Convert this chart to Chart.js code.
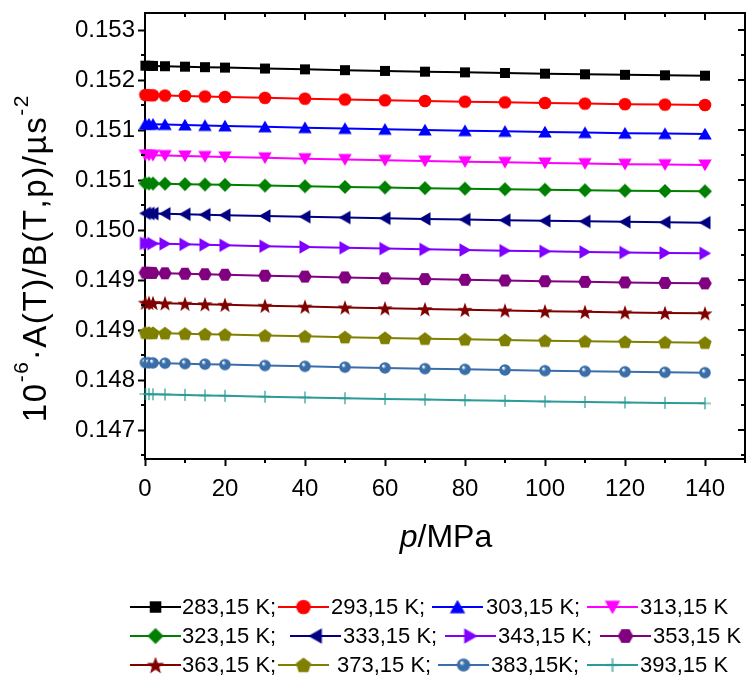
<!DOCTYPE html>
<html>
<head>
<meta charset="utf-8">
<script src="https://cdn.jsdelivr.net/npm/chart.js@4.4.1/dist/chart.umd.min.js"></script>
<style>
    html, body { margin: 0; padding: 0; background: #fff; }
    canvas { display: block; }
</style>
</head>
<body>
<canvas id="speedChart" width="746" height="678"></canvas>
<script>
// Pressure points (MPa)
const pressures = [0.1, 1, 2, 5, 10, 15, 20, 30, 40, 50, 60, 70, 80, 90, 100, 110, 120, 130, 140];

const temperatures = ['283,15 K;', '293,15 K;', '303,15 K;', '313,15 K',
                      '323,15 K;', '333,15 K;', '343,15 K;', '353,15 K',
                      '363,15 K;', '373,15 K;', '383,15K;', '393,15 K'];

// 10^-6 * A(T)/B(T,p) values, one list per isotherm
const t283 = [0.152465, 0.152463, 0.152461, 0.152457, 0.152450, 0.152443, 0.152436, 0.152422, 0.152410, 0.152398, 0.152386, 0.152375, 0.152365, 0.152355, 0.152345, 0.152336, 0.152328, 0.152321, 0.152315];
const t293 = [0.152025, 0.152023, 0.152021, 0.152017, 0.152010, 0.152003, 0.151996, 0.151982, 0.151970, 0.151958, 0.151946, 0.151935, 0.151925, 0.151915, 0.151905, 0.151896, 0.151888, 0.151881, 0.151875];
const t303 = [0.151590, 0.151588, 0.151586, 0.151582, 0.151575, 0.151568, 0.151561, 0.151547, 0.151535, 0.151523, 0.151511, 0.151500, 0.151490, 0.151480, 0.151470, 0.151461, 0.151453, 0.151446, 0.151440];
const t313 = [0.151125, 0.151123, 0.151121, 0.151117, 0.151110, 0.151103, 0.151096, 0.151082, 0.151070, 0.151058, 0.151046, 0.151035, 0.151025, 0.151015, 0.151005, 0.150996, 0.150988, 0.150981, 0.150975];
const t323 = [0.150700, 0.150698, 0.150697, 0.150694, 0.150688, 0.150682, 0.150677, 0.150666, 0.150656, 0.150646, 0.150637, 0.150628, 0.150620, 0.150612, 0.150604, 0.150597, 0.150590, 0.150585, 0.150580];
const t333 = [0.150250, 0.150248, 0.150246, 0.150243, 0.150236, 0.150229, 0.150223, 0.150210, 0.150199, 0.150187, 0.150176, 0.150166, 0.150157, 0.150147, 0.150138, 0.150130, 0.150122, 0.150116, 0.150110];
const t343 = [0.149800, 0.149798, 0.149796, 0.149792, 0.149785, 0.149778, 0.149771, 0.149757, 0.149745, 0.149733, 0.149721, 0.149710, 0.149700, 0.149690, 0.149680, 0.149671, 0.149663, 0.149656, 0.149650];
const t353 = [0.149360, 0.149358, 0.149356, 0.149351, 0.149344, 0.149337, 0.149329, 0.149314, 0.149301, 0.149289, 0.149276, 0.149264, 0.149253, 0.149243, 0.149232, 0.149222, 0.149214, 0.149206, 0.149200];
const t363 = [0.148910, 0.148908, 0.148906, 0.148901, 0.148894, 0.148887, 0.148879, 0.148864, 0.148851, 0.148839, 0.148826, 0.148814, 0.148803, 0.148793, 0.148782, 0.148772, 0.148764, 0.148756, 0.148750];
const t373 = [0.148460, 0.148458, 0.148456, 0.148452, 0.148445, 0.148438, 0.148431, 0.148417, 0.148405, 0.148393, 0.148381, 0.148370, 0.148360, 0.148350, 0.148340, 0.148331, 0.148323, 0.148316, 0.148310];
const t383 = [0.148010, 0.148008, 0.148006, 0.148002, 0.147995, 0.147988, 0.147981, 0.147967, 0.147955, 0.147943, 0.147931, 0.147920, 0.147910, 0.147900, 0.147890, 0.147881, 0.147873, 0.147866, 0.147860];
const t393 = [0.147540, 0.147538, 0.147536, 0.147533, 0.147526, 0.147519, 0.147513, 0.147500, 0.147489, 0.147477, 0.147466, 0.147456, 0.147447, 0.147437, 0.147428, 0.147420, 0.147412, 0.147406, 0.147400];

const allSeries = [t283, t293, t303, t313, t323, t333, t343, t353, t363, t373, t383, t393];

// Axis ticks
const xTickValues = [0, 20, 40, 60, 80, 100, 120, 140];
const yTickValues = [0.147, 0.14775, 0.1485, 0.14925, 0.150, 0.15075, 0.1515, 0.15225, 0.153];
const yTickLabels = ['0.147', '0.148', '0.149', '0.149', '0.150', '0.151', '0.151', '0.152', '0.153'];

// Styles
const colors = ['#000000', '#ff0000', '#0000ff', '#ff00ff', '#008000', '#000080',
                '#8000ff', '#800080', '#800000', '#808000', '#3a6ea8', '#2b9c98'];
const markers = ['square', 'circle', 'triUp', 'triDown', 'diamond', 'triLeft',
                 'triRight', 'hexagon', 'star', 'pentagon', 'sphere', 'cross'];

const FONT = "'Liberation Sans', Arial, sans-serif";

function polygon(g, cx, cy, r, n, startDeg) {
    for (let i = 0; i < n; i++) {
        const a = (startDeg + i * 360 / n) * Math.PI / 180;
        const px = cx + r * Math.cos(a);
        const py = cy + r * Math.sin(a);
        if (i === 0) g.moveTo(px, py); else g.lineTo(px, py);
    }
    g.closePath();
}

// Build a small canvas with the marker, used as pointStyle
function makeMarker(kind, color) {
    const c = document.createElement('canvas');
    c.width = 18;
    c.height = 18;
    const g = c.getContext('2d');
    const cx = 9, cy = 9;
    g.fillStyle = color;
    g.strokeStyle = color;
    g.beginPath();
    switch (kind) {
        case 'square': g.rect(cx - 5, cy - 5, 10, 10); break;
        case 'circle': g.arc(cx, cy, 6.3, 0, Math.PI * 2); break;
        case 'triUp': polygon(g, cx, cy + 1.6, 7.8, 3, -90); break;
        case 'triDown': polygon(g, cx, cy - 1.6, 7.8, 3, 90); break;
        case 'triLeft': polygon(g, cx + 1.6, cy, 7.8, 3, 180); break;
        case 'triRight': polygon(g, cx - 1.6, cy, 7.8, 3, 0); break;
        case 'diamond': polygon(g, cx, cy, 7, 4, -90); break;
        case 'hexagon': polygon(g, cx, cy, 6.8, 6, 0); break;
        case 'pentagon': polygon(g, cx, cy + 0.6, 7, 5, -90); break;
        case 'star':
            for (let i = 0; i < 10; i++) {
                const r = i % 2 === 0 ? 8 : 3.3;
                const a = (-90 + i * 36) * Math.PI / 180;
                const px = cx + r * Math.cos(a), py = cy + 0.8 + r * Math.sin(a);
                if (i === 0) g.moveTo(px, py); else g.lineTo(px, py);
            }
            g.closePath();
            break;
        case 'sphere': {
            const grad = g.createRadialGradient(cx - 1.8, cy - 2.2, 0.4, cx, cy, 6);
            grad.addColorStop(0, '#ffffff');
            grad.addColorStop(0.35, color);
            grad.addColorStop(1, color);
            g.fillStyle = grad;
            g.arc(cx, cy, 5.8, 0, Math.PI * 2);
            break;
        }
        case 'cross':
            g.lineWidth = 1.2;
            g.moveTo(cx - 6, cy); g.lineTo(cx + 6, cy);
            g.moveTo(cx, cy - 6); g.lineTo(cx, cy + 6);
            g.stroke();
            return c;
    }
    g.fill();
    return c;
}

const markerImages = markers.map((m, i) => makeMarker(m, colors[i]));

const datasets = allSeries.map((series, i) => ({
    label: temperatures[i],
    data: pressures.map((p, j) => ({ x: p, y: series[j] })),
    borderColor: colors[i],
    backgroundColor: colors[i],
    borderWidth: 2,
    pointStyle: markerImages[i],
    pointRadius: 6,
    pointHoverRadius: 6,
    tension: 0,
    fill: false,
    clip: false
}));

// Frame, inner ticks, minor ticks
const framePlugin = {
    id: 'frame',
    afterDraw(chart) {
        const { ctx, chartArea: a, scales } = chart;
        const xs = scales.x, ys = scales.y;
        ctx.save();
        ctx.strokeStyle = '#000';
        ctx.lineWidth = 2;
        ctx.beginPath();
        ctx.moveTo(a.left - 1, a.top);
        ctx.lineTo(a.right, a.top);
        ctx.lineTo(a.right, a.bottom + 1);
        ctx.stroke();

        ctx.beginPath();
        // y major on right (inward)
        yTickValues.forEach(v => {
            const y = ys.getPixelForValue(v);
            ctx.moveTo(a.right, y); ctx.lineTo(a.right - 7, y);
        });
        // y minor ticks
        const yMinor = [yTickValues[0] - 0.000375].concat(yTickValues.map(v => v + 0.000375));
        yMinor.forEach(v => {
            if (v < ys.min || v > ys.max) return;
            const y = ys.getPixelForValue(v);
            ctx.moveTo(a.left, y); ctx.lineTo(a.left - 4, y);
            ctx.moveTo(a.right, y); ctx.lineTo(a.right - 4, y);
        });
        // x major on top (inward)
        xTickValues.forEach(v => {
            const x = xs.getPixelForValue(v);
            ctx.moveTo(x, a.top); ctx.lineTo(x, a.top + 7);
        });
        // x minor ticks
        xTickValues.forEach(v => {
            const m = v + 10;
            if (m > xs.max) return;
            const x = xs.getPixelForValue(m);
            ctx.moveTo(x, a.bottom); ctx.lineTo(x, a.bottom + 4);
            ctx.moveTo(x, a.top); ctx.lineTo(x, a.top + 4);
        });
        ctx.stroke();
        ctx.restore();
    }
};

// Axis titles with superscripts / italics
const titlePlugin = {
    id: 'titles',
    afterDraw(chart) {
        const ctx = chart.ctx;
        const a = chart.chartArea;
        ctx.save();
        ctx.fillStyle = '#000';
        ctx.textBaseline = 'alphabetic';

        // x title: p/MPa
        ctx.font = 'italic 32px ' + FONT;
        const wp = ctx.measureText('p').width;
        ctx.font = '32px ' + FONT;
        const wr = ctx.measureText('/MPa').width;
        let x0 = (a.left + a.right) / 2 + 1 - (wp + wr) / 2;
        ctx.font = 'italic 32px ' + FONT;
        ctx.fillText('p', x0, 547);
        ctx.font = '32px ' + FONT;
        ctx.fillText('/MPa', x0 + wp, 547);

        // y title: 10^-6·A(T)/B(T,p)/µs^-2, drawn glyph by glyph with a little spacing
        const runs = [
            { t: '10', sup: false },
            { t: '-6', sup: true },
            { t: '\u00B7A(T)/B(T,p)/\u00B5s', sup: false },
            { t: '-2', sup: true }
        ];
        const spacing = 1.6;
        let total = 0;
        runs.forEach(r => {
            ctx.font = (r.sup ? '21px ' : '33px ') + FONT;
            r.chars = Array.from(r.t).map(ch => ({ ch, w: ctx.measureText(ch).width + spacing }));
            r.w = r.chars.reduce((s, c) => s + c.w, 0);
            total += r.w;
        });
        ctx.translate(46, 258);
        ctx.rotate(-Math.PI / 2);
        let pos = -total / 2;
        runs.forEach(r => {
            ctx.font = (r.sup ? '21px ' : '33px ') + FONT;
            r.chars.forEach(c => {
                ctx.fillText(c.ch, pos, r.sup ? -18 : 0);
                pos += c.w;
            });
        });
        ctx.restore();
    }
};

// Legend laid out as in the figure: [line start, text start]
const legendRows = [607, 636, 665];
const legendCols = [
    [[130, 182], [278, 331], [432, 486], [587, 640]],
    [[130, 182], [290, 343], [445, 498], [600, 653]],
    [[130, 182], [278, 337], [438, 491], [587, 640]]
];
const legendPlugin = {
    id: 'figLegend',
    afterDraw(chart) {
        const ctx = chart.ctx;
        ctx.save();
        ctx.font = '22px ' + FONT;
        ctx.textBaseline = 'middle';
        temperatures.forEach((label, i) => {
            const row = Math.floor(i / 4), col = i % 4;
            const [lx, tx] = legendCols[row][col];
            const y = legendRows[row];
            ctx.strokeStyle = colors[i];
            ctx.lineWidth = 2;
            ctx.beginPath();
            ctx.moveTo(lx, y);
            ctx.lineTo(lx + 51, y);
            ctx.stroke();
            const img = markerImages[i];
            const s = 1.15;
            ctx.drawImage(img, lx + 25.5 - img.width * s / 2, y - img.height * s / 2, img.width * s, img.height * s);
            ctx.fillStyle = '#000';
            ctx.fillText(label, tx, y + 1);
        });
        ctx.restore();
    }
};

const ctx = document.getElementById('speedChart').getContext('2d');
const speedChart = new Chart(ctx, {
    type: 'line',
    data: { datasets: datasets },
    options: {
        responsive: false,
        animation: false,
        events: [],
        layout: {
            autoPadding: false,
            padding: { top: 13, right: 1, bottom: 119, left: 0 }
        },
        plugins: {
            legend: { display: false },
            tooltip: { enabled: false }
        },
        scales: {
            x: {
                type: 'linear',
                min: 0,
                max: 150,
                afterBuildTicks: (scale) => {
                    scale.ticks = xTickValues.map(v => ({ value: v }));
                },
                afterFit: (scale) => {
                    scale.height = 100;
                    scale.paddingLeft = 0;
                    scale.paddingRight = 0;
                },
                border: { display: true, color: '#000', width: 2 },
                grid: {
                    drawOnChartArea: false,
                    drawTicks: true,
                    tickLength: 7,
                    tickWidth: 2,
                    tickColor: '#000'
                },
                ticks: {
                    color: '#000',
                    padding: 9,
                    maxRotation: 0,
                    font: { family: FONT, size: 24 },
                    callback: (value) => String(value)
                }
            },
            y: {
                type: 'linear',
                min: 0.146565,
                max: 0.153255,
                afterBuildTicks: (scale) => {
                    scale.ticks = yTickValues.map(v => ({ value: v }));
                },
                afterFit: (scale) => {
                    scale.width = 145;
                    scale.paddingTop = 0;
                    scale.paddingBottom = 0;
                },
                border: { display: true, color: '#000', width: 2 },
                grid: {
                    drawOnChartArea: false,
                    drawTicks: true,
                    tickLength: 7,
                    tickWidth: 2,
                    tickColor: '#000'
                },
                ticks: {
                    color: '#000',
                    padding: 3,
                    font: { family: FONT, size: 24 },
                    callback: (value, index) => yTickLabels[index]
                }
            }
        }
    },
    plugins: [framePlugin, titlePlugin, legendPlugin]
});
</script>
</body>
</html>
